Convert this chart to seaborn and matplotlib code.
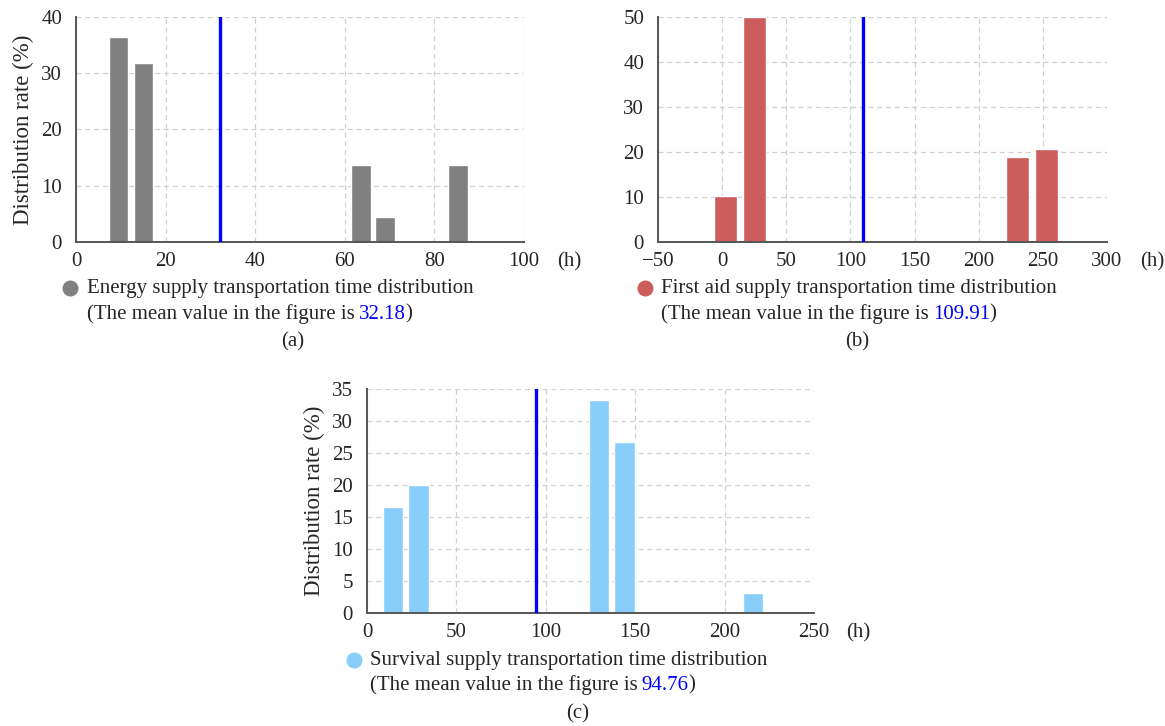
import matplotlib
matplotlib.use('Agg')
import matplotlib.pyplot as plt
import seaborn as sns
from matplotlib.lines import Line2D

# ==================================================================
# Transportation time distributions
# ==================================================================

energy_hours = [9.5, 15.0, 63.6, 69.0, 85.3]
energy_rate = [36.4, 31.9, 13.6, 4.4, 13.6]
energy_mean = 32.18

aid_hours = [2.6, 25.4, 230.5, 253.0]
aid_rate = [10.3, 50.0, 18.8, 20.7]
aid_mean = 109.91

survival_hours = [14.5, 28.9, 129.8, 144.1, 216.0]
survival_rate = [16.6, 20.0, 33.3, 26.7, 3.2]
survival_mean = 94.76

energy_label = 'Energy supply transportation time distribution'
aid_label = 'First aid supply transportation time distribution'
survival_label = 'Survival supply transportation time distribution'

sns.set_style('white')
plt.rcParams['font.family'] = ['Liberation Serif', 'DejaVu Serif']
FS = 15

W, H = 1165, 726
fig = plt.figure(figsize=(W / 100, H / 100), dpi=100)


def px_axes(left, top, right, bottom):
    # axes rectangle given in picture pixels
    return fig.add_axes([left / W, 1 - bottom / H, (right - left) / W, (bottom - top) / H])


def draw_panel(ax, hours, rate, mean, color, xlim, xticks, ylim, yticks, ylabel):
    sns.barplot(x=hours, y=rate, native_scale=True, width=0.8, color=color,
                errorbar=None, saturation=1, ax=ax, zorder=2)
    ax.axvline(mean, color='#0000ff', lw=2.4, zorder=3)
    ax.set_xlim(xlim)
    ax.set_ylim(ylim)
    ax.set_xticks(xticks)
    ax.set_yticks(yticks)
    ax.set_xticklabels(['\u2212' + str(-t) if t < 0 else str(t) for t in xticks])
    ax.grid(True, ls=(0, (4, 3)), color='#d0d0d0', lw=0.9, zorder=0)
    ax.set_axisbelow(True)
    for s in ['top', 'right']:
        ax.spines[s].set_visible(False)
    for s in ['left', 'bottom']:
        ax.spines[s].set_color('#555555')
        ax.spines[s].set_linewidth(1.4)
    ax.tick_params(axis='both', length=3, color='#999999', labelsize=FS)
    ax.tick_params(axis='x', pad=4)
    ax.tick_params(axis='y', pad=7)
    ax.set_xlabel('')
    ax.set_ylabel(ylabel, fontsize=16.5, labelpad=5)
    ax.text(1.1, -0.09, '(h)', transform=ax.transAxes, fontsize=FS,
            ha='center', va='center')


def add_legend(x_marker, x_text, y1, y2, color, label, mean, tag, x_tag, y_tag):
    fig.add_artist(Line2D([x_marker / W], [1 - y1 / H], marker='o', ms=10.5,
                          color=color, transform=fig.transFigure))
    fig.text(x_text / W, 1 - y1 / H, label, fontsize=FS, va='center')
    t = fig.text(x_text / W, 1 - y2 / H, '(The mean value in the figure is',
                 fontsize=FS, va='center')
    renderer = fig.canvas.get_renderer()
    x1 = t.get_window_extent(renderer).x1 + 4
    t2 = fig.text(x1 / W, 1 - y2 / H, f'{mean:.2f}', color='#0000ff',
                  fontsize=FS, va='center')
    x2 = t2.get_window_extent(renderer).x1
    fig.text(x2 / W, 1 - y2 / H, ')', fontsize=FS, va='center')
    fig.text(x_tag / W, 1 - y_tag / H, tag, fontsize=FS, ha='center', va='center')


# (a) energy supply
ax_a = px_axes(76, 17, 524, 242)
draw_panel(ax_a, energy_hours, energy_rate, energy_mean, '#808080',
           (0, 100), [0, 20, 40, 60, 80, 100], (0, 40), [0, 10, 20, 30, 40],
           'Distribution rate (%)')
add_legend(70, 87, 288, 314, '#808080', energy_label, energy_mean, '(a)', 293, 342)

# (b) first aid supply
ax_b = px_axes(658, 17, 1107, 242)
draw_panel(ax_b, aid_hours, aid_rate, aid_mean, '#cd5c5c',
           (-50, 300), [-50, 0, 50, 100, 150, 200, 250, 300], (0, 50),
           [0, 10, 20, 30, 40, 50], '')
add_legend(645, 661, 288, 314, '#cd5c5c', aid_label, aid_mean, '(b)', 857, 342)

# (c) survival supply
ax_c = px_axes(367, 389, 814, 613)
draw_panel(ax_c, survival_hours, survival_rate, survival_mean, '#87cefa',
           (0, 250), [0, 50, 100, 150, 200, 250], (0, 35),
           [0, 5, 10, 15, 20, 25, 30, 35], 'Distribution rate (%)')
add_legend(354, 370, 660, 685, '#87cefa', survival_label, survival_mean, '(c)', 578, 714)

plt.savefig('out.png', dpi=100)
